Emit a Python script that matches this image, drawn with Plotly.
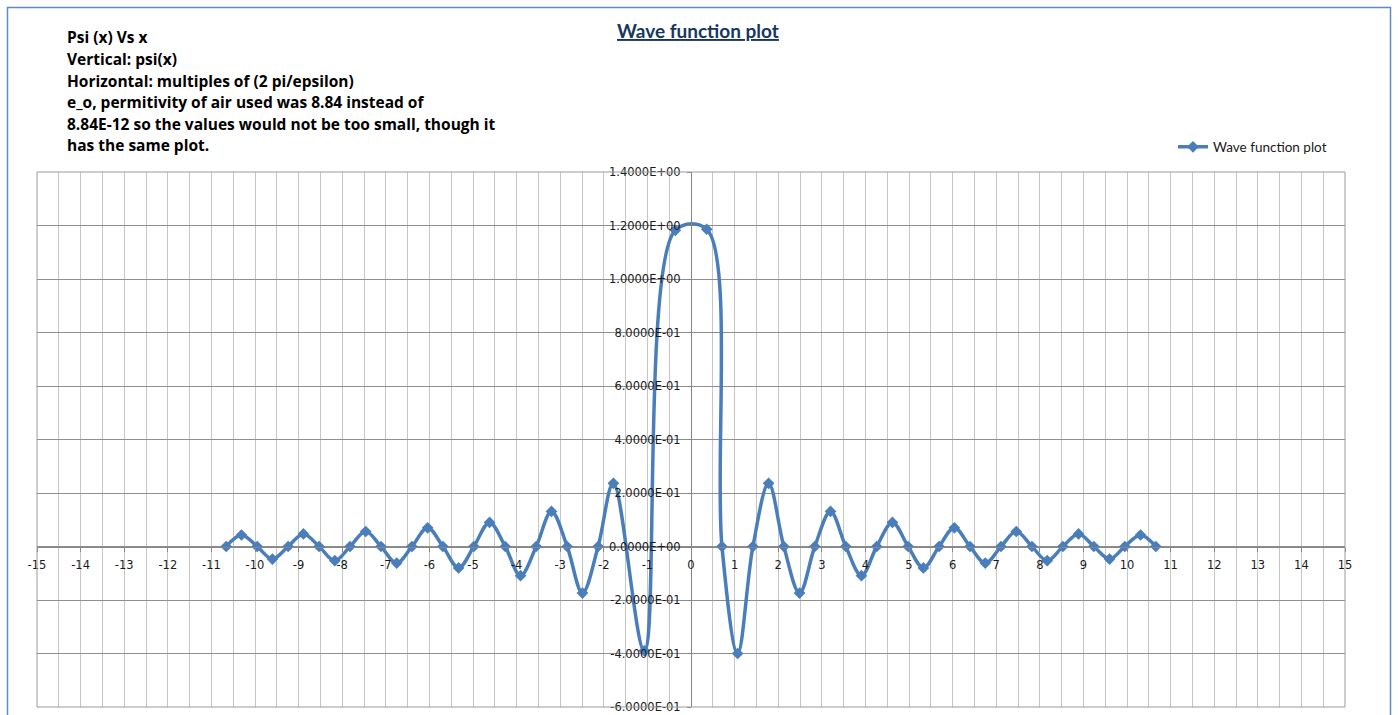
import plotly.graph_objects as go

# ---- data ----
x_vals = [-10.66, -10.31, -9.95, -9.60, -9.24, -8.89, -8.53, -8.17, -7.82, -7.46,
          -7.11, -6.75, -6.40, -6.04, -5.69, -5.33, -4.98, -4.62, -4.26, -3.91,
          -3.55, -3.20, -2.84, -2.49, -2.13, -1.78, -1.07, -0.36,
          0.36, 0.71, 1.07, 1.42, 1.78, 2.13, 2.49, 2.84, 3.20, 3.55,
          3.91, 4.26, 4.62, 4.98, 5.33, 5.69, 6.04, 6.40, 6.75, 7.11,
          7.46, 7.82, 8.17, 8.53, 8.89, 9.24, 9.60, 9.95, 10.31, 10.66]
psi_vals = [0.0, 0.043, 0.0, -0.047, 0.0, 0.047, 0.0, -0.053, 0.0, 0.056,
            0.0, -0.062, 0.0, 0.070, 0.0, -0.080, 0.0, 0.090, 0.0, -0.109,
            0.0, 0.131, 0.0, -0.174, 0.0, 0.236, -0.39, 1.182,
            1.186, 0.0, -0.40, 0.0, 0.236, 0.0, -0.174, 0.0, 0.131, 0.0,
            -0.109, 0.0, 0.090, 0.0, -0.080, 0.0, 0.070, 0.0, -0.062, 0.0,
            0.056, 0.0, -0.053, 0.0, 0.047, 0.0, -0.047, 0.0, 0.043, 0.0]

x_ticks = list(range(-15, 16))
x_tick_text = [str(v) for v in x_ticks]
y_ticks = [-0.6, -0.4, -0.2, 0.0, 0.2, 0.4, 0.6, 0.8, 1.0, 1.2, 1.4]
y_tick_text = ["-6.0000E-01", "-4.0000E-01", "-2.0000E-01", "0.0000E+00",
               "2.0000E-01", "4.0000E-01", "6.0000E-01", "8.0000E-01",
               "1.0000E+00", "1.2000E+00", "1.4000E+00"]

series_name = "Wave function plot"
chart_title = "Wave function plot"
note_lines = [
    "Psi (x) Vs x",
    "Vertical: psi(x)",
    "Horizontal: multiples of (2 pi/epsilon)",
    "e_o, permitivity of air used was 8.84 instead of",
    "8.84E-12 so the values would not be too small, though it",
    "has the same plot.",
]

# ---- layout geometry ----
W, H = 1398, 715
ML, MR, MT, MB = 37, 53, 172, 8
PW = W - ML - MR
PH = H - MT - MB

def px_x(p):
    return (p - ML) / PW

def px_y(p):
    return (H - MB - p) / PH

X_RANGE = [-15, 15]
Y_RANGE = [-0.6, 1.4]

BLUE = "#4A7EBB"
FONT = "Lato"
TICKFONT = dict(family="DejaVu Sans", size=11.5, color="#1a1a1a")

fig = go.Figure()
fig.add_trace(go.Scatter(
    x=x_vals, y=psi_vals, mode="lines+markers", name=series_name,
    line=dict(color=BLUE, width=3.5, shape="spline", smoothing=1.0),
    marker=dict(symbol="diamond", size=9, color=BLUE),
))

fig.update_layout(
    width=W, height=H,
    margin=dict(l=ML, r=MR, t=MT, b=MB),
    paper_bgcolor="white", plot_bgcolor="white",
    template="none",
    font=dict(family=FONT, size=12, color="#1a1a1a"),
    showlegend=True,
    legend=dict(x=px_x(1173), y=px_y(147), xanchor="left", yanchor="middle",
                font=dict(family=FONT, size=13.5, color="#1a1a1a"),
                bgcolor="rgba(0,0,0,0)", itemwidth=30),
    xaxis=dict(
        range=X_RANGE, tickvals=x_ticks, ticktext=x_tick_text,
        showgrid=True, gridcolor="#C6C6C6", gridwidth=1,
        minor=dict(dtick=0.5, tick0=0, showgrid=True, gridcolor="#C6C6C6", gridwidth=1),
        zeroline=False, showline=True, linecolor="#868686", linewidth=1,
        ticks="outside", ticklen=4, tickcolor="#868686",
        anchor="free", position=(0 - Y_RANGE[0]) / (Y_RANGE[1] - Y_RANGE[0]),
        tickfont=TICKFONT,
        ticklabelstandoff=4,
    ),
    yaxis=dict(
        range=Y_RANGE, tickvals=y_ticks, ticktext=y_tick_text,
        showgrid=True, gridcolor="#8E8E8E", gridwidth=1,
        zeroline=False, showline=True, linecolor="#868686", linewidth=1,
        ticks="outside", ticklen=4, tickcolor="#868686",
        anchor="free", position=(0 - X_RANGE[0]) / (X_RANGE[1] - X_RANGE[0]),
        tickfont=TICKFONT,
        ticklabelstandoff=4,
    ),
)

# plot-area border
fig.add_shape(type="rect", xref="paper", yref="paper", x0=0, x1=1, y0=0, y1=1,
              line=dict(color="#9A9A9A", width=1), layer="above")
# chart-area border
fig.add_shape(type="rect", xref="paper", yref="paper",
              x0=px_x(7.5), x1=px_x(1390.5), y0=px_y(730), y1=px_y(7.5),
              line=dict(color="#5E8AC7", width=1.5), layer="below")

# title
fig.add_annotation(text="<b><u>" + chart_title + "</u></b>", xref="paper", yref="paper",
                   x=px_x(698), y=px_y(31), xanchor="center", yanchor="middle",
                   showarrow=False, font=dict(family=FONT, size=19, color="#17375E"))

# notes
note_y = [37, 59, 81, 102, 124, 145]
for line, yy in zip(note_lines, note_y):
    fig.add_annotation(text="<b>" + line + "</b>", xref="paper", yref="paper",
                       x=px_x(65), y=px_y(yy), xanchor="left", yanchor="middle",
                       showarrow=False, font=dict(family="Open Sans", size=15.5, color="#000000"))

fig.write_html("out.html", config={"displayModeBar": False},
               post_script="document.body.style.margin='0';document.body.style.overflow='hidden';")
